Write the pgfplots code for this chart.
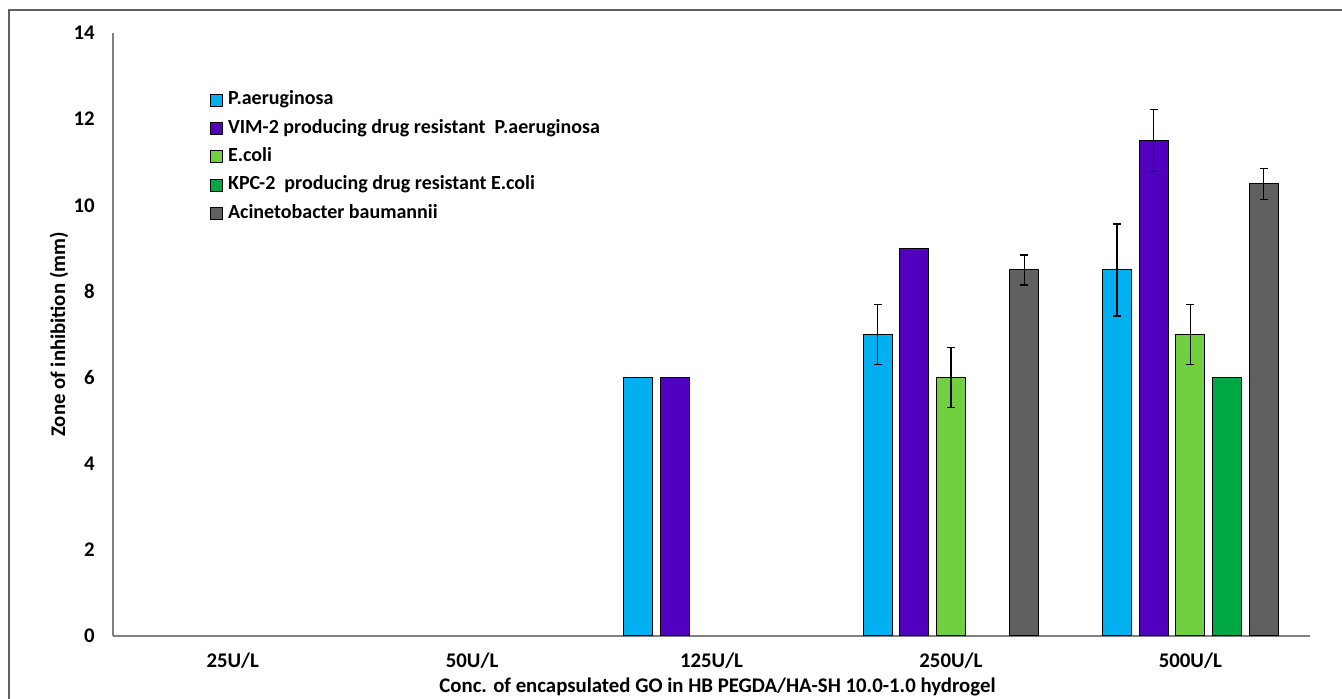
\documentclass[border=0pt]{standalone}
\usepackage{fontspec}
\setmainfont{Carlito}
\usepackage{pgfplots}
\pgfplotsset{compat=1.18}
\usepackage{pgfplotstable}

\definecolor{cPA}{HTML}{00B0F0}
\definecolor{cVIM}{HTML}{5000BE}
\definecolor{cEC}{HTML}{70D040}
\definecolor{cKPC}{HTML}{00A844}
\definecolor{cAB}{HTML}{606060}
\definecolor{frame}{HTML}{606060}
\definecolor{axl}{HTML}{808080}

\newcommand\lbl{\fontsize{15.6}{18}\selectfont\bfseries}
\newcommand\leg{\fontsize{15}{18}\selectfont\bfseries}

\pgfplotstableread{
x y e
2 6 0
3 7 0.7
4 8.5 1.07
}\PA
\pgfplotstableread{
x y e
2 6 0
3 9 0
4 11.5 0.72
}\VIM
\pgfplotstableread{
x y e
3 6 0.7
4 7 0.7
}\EC
\pgfplotstableread{
x y e
4 6 0
}\KPC
\pgfplotstableread{
x y e
3 8.5 0.35
4 10.5 0.36
}\AB

\pgfplotsset{sqleg/.style={legend image code/.code={\draw[##1, draw=black, line width=0.6pt] (0pt,-4.5pt) rectangle (9pt,4.5pt);}}}

\begin{document}
\begin{tikzpicture}
\useasboundingbox (0pt,0pt) rectangle (1006.5pt,524.25pt);
\draw[frame, line width=0.8pt] (6.75pt,-5pt) -- (6.75pt,516.75pt) -- (1015pt,516.75pt);
\begin{axis}[
  at={(84.75pt,47.25pt)}, anchor=south west,
  scale only axis, width=897.75pt, height=452.25pt,
  xmin=-0.5, xmax=4.5, ymin=0, ymax=14,
  axis lines*=left,
  axis line style={draw=axl, line width=1pt, -},
  xtick={0,1,2,3,4},
  xticklabels={25U/L,50U/L,125U/L,250U/L,500U/L},
  ytick={0,2,...,14},
  major tick length=0pt,
  /pgf/number format/assume math mode=true,
  ticklabel style={font=\lbl},
  xticklabel style={anchor=base, inner sep=0pt, yshift=-24pt},
  yticklabel style={anchor=east, inner sep=0pt, xshift=-13.5pt},
  xlabel={Conc. of encapsulated GO in HB PEGDA/HA-SH 10.0-1.0 hydrogel},
  xlabel style={at={(axis description cs:0.505,-0.0945)}, anchor=base, inner sep=0pt, font=\lbl},
  ylabel={Zone of inhibition (mm)},
  ylabel style={at={(axis description cs:-0.0401,0.5)}, anchor=base, inner sep=0pt, rotate=0, font=\lbl},
  ybar=5.75pt, bar width=21.75pt,
  legend style={at={(axis description cs:0.0777,0.912)}, anchor=north west, draw=none, fill=none, font=\leg, row sep=4.75pt,
    nodes={inner xsep=3.75pt, inner ysep=1pt, text height=11pt, text depth=3.5pt}},
  legend cell align=left,
  error bars/y dir=both, error bars/y explicit,
  error bars/error bar style={line width=1.1pt, black},
  error bars/error mark options={rotate=90, mark size=3pt, line width=1.1pt, black},
]
\addplot[fill=cPA, draw=black, line width=0.75pt, sqleg] table[x=x, y=y, y error=e]{\PA};
\addlegendentry{P.aeruginosa}
\addplot[fill=cVIM, draw=black, line width=0.75pt, sqleg] table[x=x, y=y, y error=e]{\VIM};
\addlegendentry{VIM-2 producing drug resistant\ \ P.aeruginosa}
\addplot[fill=cEC, draw=black, line width=0.75pt, sqleg] table[x=x, y=y, y error=e]{\EC};
\addlegendentry{E.coli}
\addplot[fill=cKPC, draw=black, line width=0.75pt, sqleg] table[x=x, y=y, y error=e]{\KPC};
\addlegendentry{KPC-2\ \ producing drug resistant E.coli}
\addplot[fill=cAB, draw=black, line width=0.75pt, sqleg] table[x=x, y=y, y error=e]{\AB};
\addlegendentry{Acinetobacter baumannii}
\end{axis}
\end{tikzpicture}
\end{document}
